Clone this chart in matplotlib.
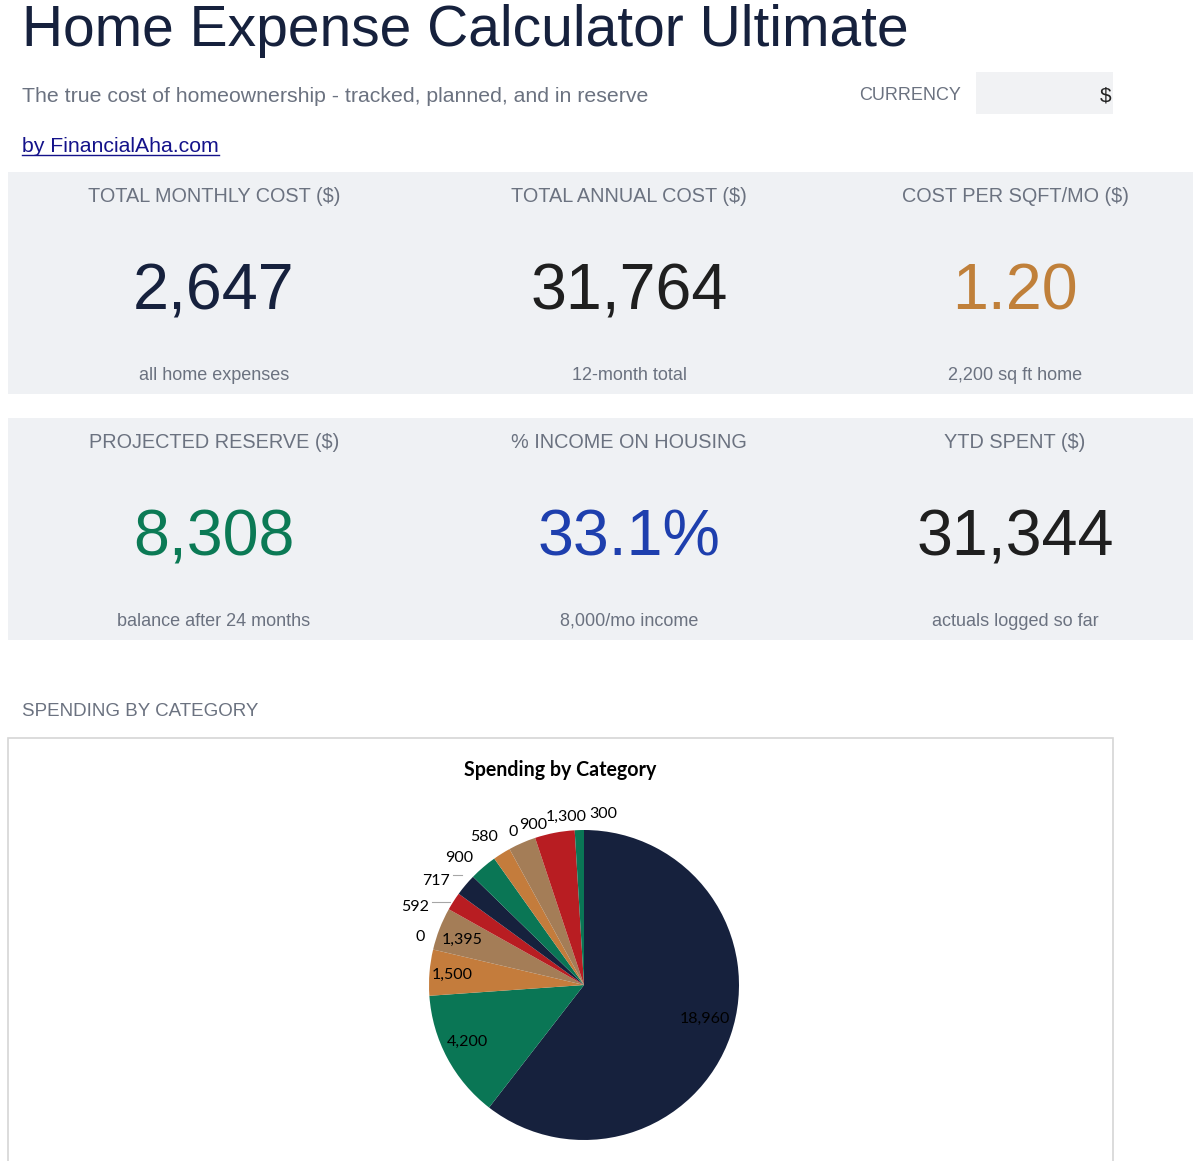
import numpy as np
import matplotlib
matplotlib.use("Agg")
import matplotlib.pyplot as plt
from matplotlib.patches import Rectangle

# --- data ---
card_headers = ["TOTAL MONTHLY COST ($)", "TOTAL ANNUAL COST ($)", "COST PER SQFT/MO ($)",
                "PROJECTED RESERVE ($)", "% INCOME ON HOUSING", "YTD SPENT ($)"]
card_values = ["2,647", "31,764", "1.20", "8,308", "33.1%", "31,344"]
card_notes = ["all home expenses", "12-month total", "2,200 sq ft home",
              "balance after 24 months", "8,000/mo income", "actuals logged so far"]

category_values = [18960, 4200, 1500, 1395, 0, 592, 717, 900, 580, 0, 900, 1300, 300]

# --- styles ---
NAVY = "#16213D"
GREEN = "#0A7655"
ORANGE = "#C47C3C"
TAN = "#A47D57"
RED = "#B81D22"
GREY = "#6B7280"
PANEL = "#EFF1F4"
value_colors = [NAVY, "#1F1F1F", "#C0803A", "#0B7A55", "#1E3FAE", "#1F1F1F"]
slice_colors = [NAVY, GREEN, ORANGE, TAN, RED, RED, NAVY, GREEN, ORANGE, TAN, TAN, RED, GREEN]

plt.rcParams["font.family"] = ["Liberation Sans", "DejaVu Sans"]

W, H = 1200, 1161
fig = plt.figure(figsize=(W / 100, H / 100), dpi=100)
bg = fig.add_axes([0, 0, 1, 1])
bg.set_xlim(0, W)
bg.set_ylim(H, 0)
bg.axis("off")

# header
bg.text(22, 31, "Home Expense Calculator Ultimate", fontsize=41, color=NAVY, va="center")
bg.text(22, 97, "The true cost of homeownership - tracked, planned, and in reserve",
        fontsize=15.3, color=GREY, va="center")
bg.text(859, 96, "CURRENCY", fontsize=13, color=GREY, va="center")
bg.add_patch(Rectangle((976, 72), 137, 42, facecolor="#F1F2F4", edgecolor="none"))
bg.text(1111, 96, "$", fontsize=15, color="#222222", va="center", ha="right")
bg.text(22, 146, "by FinancialAha.com", fontsize=15.3, color="#14128A", va="center")
bg.plot([22, 219], [155, 155], color="#14128A", lw=1)

# KPI cards
col_x = [214, 629, 1015]
for row, top in enumerate([172, 418]):
    bg.add_patch(Rectangle((8, top), 1185, 222, facecolor=PANEL, edgecolor="none"))
    for c in range(3):
        i = row * 3 + c
        bg.text(col_x[c], top + 25, card_headers[i], fontsize=14.3, color=GREY,
                ha="center", va="center")
        bg.text(col_x[c], top + 121, card_values[i], fontsize=46.5, color=value_colors[i],
                ha="center", va="center")
        bg.text(col_x[c], top + 203, card_notes[i], fontsize=13, color=GREY,
                ha="center", va="center")

bg.text(22, 712, "SPENDING BY CATEGORY", fontsize=13.5, color=GREY, va="center")
bg.add_patch(Rectangle((8, 738), 1105, 440, facecolor="white", edgecolor="#D6D6D6", lw=1.2))
bg.text(560, 770, "Spending by Category", fontsize=14.1, fontweight="bold",
        family=["Lato", "DejaVu Sans"], color="black", ha="center", va="center")

# pie chart
r_px = 155
cx, cy = 584, 985
pie_ax = fig.add_axes([(cx - r_px) / W, 1 - (cy + r_px) / H, 2 * r_px / W, 2 * r_px / H])
wedges, _ = pie_ax.pie(category_values, colors=slice_colors, startangle=90,
                       counterclock=False, radius=1.0,
                       wedgeprops=dict(linewidth=0))
pie_ax.set_xlim(-1, 1)
pie_ax.set_ylim(-1, 1)
pie_ax.set_aspect("equal")
pie_ax.axis("off")

# label placement (radius factor, angle nudge in degrees)
label_r = [0.81, 0.84, 0.85, 0.84, 1.10, 1.20, 1.17, 1.15, 1.15, 1.09, 1.08, 1.09, 1.11]
label_nudge = [3, -2, 0, 1, 13, 8, 5, 4, 2, -4, -6, -5, -8]
leader = [False, False, False, False, False, True, True, False, False, False, False, False, False]
for w, v, rf, dn, ld in zip(wedges, category_values, label_r, label_nudge, leader):
    mid = np.deg2rad((w.theta1 + w.theta2) / 2 + dn)
    x, y = rf * np.cos(mid), rf * np.sin(mid)
    pie_ax.text(x, y, f"{v:,}", fontsize=11.5, family=["Lato", "DejaVu Sans"],
                ha="center", va="center", color="black", clip_on=False)
    if ld:
        amid = np.deg2rad((w.theta1 + w.theta2) / 2)
        ex = np.cos(amid)
        pie_ax.plot([x + 0.11, ex - 0.02], [y + 0.035, y + 0.035], color="#A6A6A6", lw=0.8,
                    clip_on=False)

fig.savefig("out.png", dpi=100)
